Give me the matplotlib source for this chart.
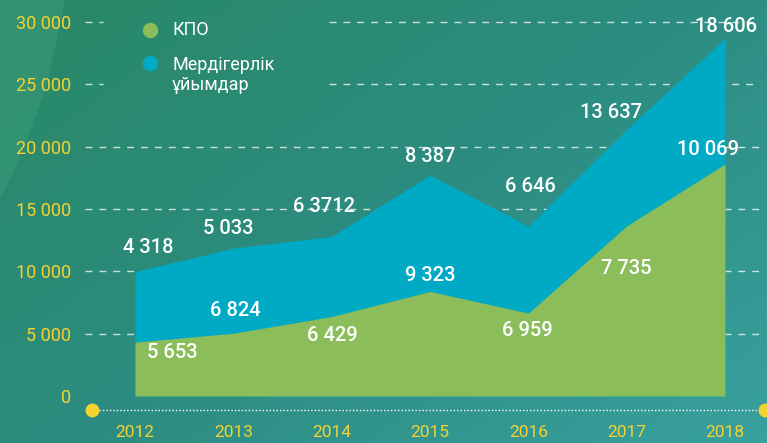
import numpy as np
import matplotlib
matplotlib.use("Agg")
import matplotlib.pyplot as plt
from matplotlib.colors import LinearSegmentedColormap

plt.rcParams['font.family'] = ['Roboto', 'DejaVu Sans']

# data
years = [2012, 2013, 2014, 2015, 2016, 2017, 2018]
kpo = [4318, 5033, 6371, 8387, 6646, 13637, 18606]
contractors = [5653, 6824, 6429, 9323, 6959, 7735, 10069]
kpo_labels = ['4 318', '5 033', '6 3712', '8 387', '6 646', '13 637', '18 606']
contr_labels = ['5 653', '6 824', '6 429', '9 323', '6 959', '7 735', '10 069']
y_ticks = [0, 5000, 10000, 15000, 20000, 25000, 30000]
y_tick_labels = ['0', '5 000', '10 000', '15 000', '20 000', '25 000', '30 000']

# label placement (x shift in years, y in data units)
kpo_lab_dx = [0.13, -0.05, -0.08, 0.0, 0.02, -0.16, 0.01]
kpo_lab_y = [11870, 13470, 15160, 19170, 16840, 22770, 29600]
con_lab_dx = [0.38, 0.02, 0.01, 0.0, -0.01, 0.0, -0.17]
con_lab_y = [3450, 6820, 4890, 9700, 5290, 10260, 19800]

GREEN = '#8bbd5b'
BLUE = '#00aac5'
YELLOW = '#f4d233'

fig = plt.figure(figsize=(7.67, 4.43), dpi=100)

# background gradient
bg = fig.add_axes([0, 0, 1, 1])
bg.set_axis_off()
gx, gy = np.meshgrid(np.linspace(0, 1, 200), np.linspace(0, 1, 120))
t = 0.55 * gx + 0.45 * gy
cmap = LinearSegmentedColormap.from_list('bg', ['#298865', '#2c8c80', '#38a09e'])
bg.imshow(t, cmap=cmap, extent=[0, 1, 0, 1], aspect='auto', origin='upper')
bg.fill([0, 0.085, 0.06, 0.02, 0], [1, 1, 0.8, 0.62, 0.55], color='#3a9c7a', alpha=0.55, lw=0)
bg.set_xlim(0, 1)
bg.set_ylim(0, 1)

ax = fig.add_axes([85 / 767, 33 / 443, 675 / 767, 410 / 443])
ax.patch.set_alpha(0)
for s in ax.spines.values():
    s.set_visible(False)

x0 = 2012 - 50 / 98.33
x1 = 2018 + 35 / 98.33
ybot = -14 / 12.47 * 1000
ax.set_xlim(x0, x1)
ax.set_ylim(ybot, 396 / 12.47 * 1000)

kpo = np.array(kpo)
total = kpo + np.array(contractors)
ax.fill_between(years, 0, total, color=BLUE, lw=0, zorder=2)
ax.fill_between(years, 0, kpo, color=GREEN, lw=0, zorder=3)

# gridlines
legend_gap = (2012 - 32 / 98.33, 2012 + 194 / 98.33)
for v in y_ticks[1:]:
    if v >= 25000:
        ax.plot([x0, legend_gap[0]], [v, v], color='white', alpha=0.75, lw=1,
                dashes=(5, 5), zorder=1)
        ax.plot([legend_gap[1], x1], [v, v], color='white', alpha=0.75, lw=1,
                dashes=(5, 5), zorder=1)
    else:
        ax.plot([x0, x1], [v, v], color='white', alpha=0.75, lw=1,
                dashes=(5, 5), zorder=1)

# base dotted line with dots
xa = 2012 - 43 / 98.33
xb = 2018 + 40 / 98.33
ax.plot([xa, xb], [ybot, ybot], color='white', lw=1, ls=(0, (1, 1.5)), clip_on=False, zorder=4)
ax.plot([xa, xb], [ybot, ybot], 'o', color=YELLOW, ms=9, clip_on=False, zorder=5)

ax.set_yticks(y_ticks)
ax.set_yticklabels(y_tick_labels)
ax.set_xticks(years)
ax.set_xticklabels([str(y) for y in years])
ax.tick_params(axis='y', length=0, pad=10, labelsize=13, labelcolor=YELLOW)
ax.tick_params(axis='x', length=0, pad=11, labelsize=12.5, labelcolor=YELLOW)

for i, yr in enumerate(years):
    ax.text(yr + kpo_lab_dx[i], kpo_lab_y[i], kpo_labels[i], color='white', fontsize=14.5,
            fontweight='medium', ha='center', va='center', zorder=0.5 if i == 2 else 6)
    ax.text(yr + con_lab_dx[i], con_lab_y[i], contr_labels[i], color='white', fontsize=14.5,
            fontweight='medium', ha='center', va='center', zorder=6)

# legend
ax.plot([2012 + 15 / 98.33], [(396 - 30) / 12.47 * 1000], 'o', color=GREEN, ms=10, clip_on=False)
ax.plot([2012 + 15 / 98.33], [(396 - 63) / 12.47 * 1000], 'o', color=BLUE, ms=10, clip_on=False)
ax.text(2012 + 37 / 98.33, (396 - 30) / 12.47 * 1000, 'КПО', color='white', fontsize=13,
        va='center', ha='left')
ax.text(2012 + 37 / 98.33, (396 - 75) / 12.47 * 1000, 'Мердігерлік\nұйымдар', color='white',
        fontsize=13, va='center', ha='left', linespacing=1.15)

fig.savefig('out.png', dpi=100)
